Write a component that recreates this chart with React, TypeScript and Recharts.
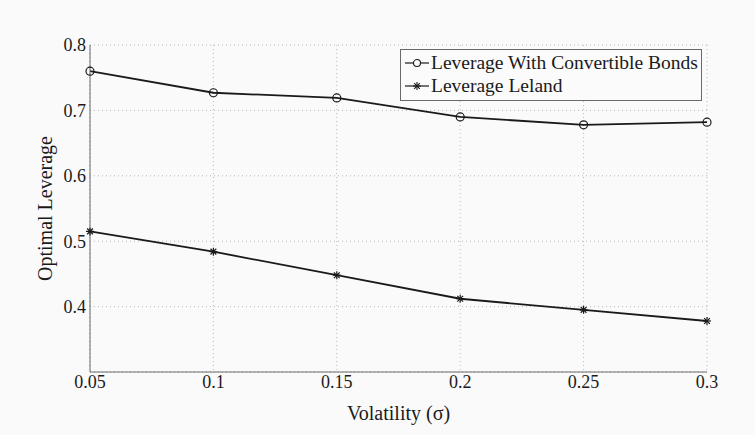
import { LineChart, Line, XAxis, YAxis, CartesianGrid, Legend } from "recharts";

// ── Data ──────────────────────────────────────────────────────────────────────
const VOLATILITY = [0.05, 0.1, 0.15, 0.2, 0.25, 0.3];
const LEV_CONVERTIBLE = [0.760, 0.727, 0.719, 0.690, 0.678, 0.682];
const LEV_LELAND = [0.515, 0.484, 0.448, 0.412, 0.395, 0.378];
const X_TICKS = [0.05, 0.1, 0.15, 0.2, 0.25, 0.3];
const Y_TICKS = [0.3, 0.4, 0.5, 0.6, 0.7, 0.8];
const SERIES_NAMES = ["Leverage With Convertible Bonds", "Leverage Leland"];

const data = VOLATILITY.map((v, i) => ({
  sigma: v,
  conv: LEV_CONVERTIBLE[i],
  leland: LEV_LELAND[i],
}));

// ── Theme ─────────────────────────────────────────────────────────────────────
const INK = "#1a1a1a";
const FRAME = "#6a6a6a";
const GRID = "#b8b8b8";
const FONT = "'Liberation Serif', 'DejaVu Serif', serif";

function CircleDot(props: any) {
  const { cx, cy, index } = props;
  if (cx == null || cy == null) return null;
  return <circle key={`c${index}`} cx={cx} cy={cy} r={4} fill="none" stroke={INK} strokeWidth={1.2} />;
}

function StarDot(props: any) {
  const { cx, cy, index } = props;
  if (cx == null || cy == null) return null;
  const r = 4;
  const d = r * 0.72;
  return (
    <g key={`s${index}`} stroke={INK} strokeWidth={1.2}>
      <line x1={cx - r} y1={cy} x2={cx + r} y2={cy} />
      <line x1={cx} y1={cy - r} x2={cx} y2={cy + r} />
      <line x1={cx - d} y1={cy - d} x2={cx + d} y2={cy + d} />
      <line x1={cx - d} y1={cy + d} x2={cx + d} y2={cy - d} />
    </g>
  );
}

// legend drawn in the series order, not recharts' sorted payload order
function LegendBox() {
  return (
    <div style={{
      border: `1px solid ${FRAME}`,
      background: "#fbfbfb",
      padding: "1px 3px 3px 4px",
      fontFamily: FONT,
      fontSize: 19.5,
      color: INK,
      lineHeight: "23px",
    }}>
      {SERIES_NAMES.map((name, i) => (
        <div key={name} style={{ display: "flex", alignItems: "center", whiteSpace: "nowrap" }}>
          <svg width={24} height={12} style={{ marginRight: 2 }}>
            <line x1={0} y1={6} x2={24} y2={6} stroke={INK} strokeWidth={1.2} />
            {i === 0
              ? <circle cx={12} cy={6} r={3.5} fill="#fbfbfb" stroke={INK} strokeWidth={1.1} />
              : <g stroke={INK} strokeWidth={1.1}>
                  <line x1={8} y1={6} x2={16} y2={6} />
                  <line x1={12} y1={2} x2={12} y2={10} />
                  <line x1={9.2} y1={3.2} x2={14.8} y2={8.8} />
                  <line x1={9.2} y1={8.8} x2={14.8} y2={3.2} />
                </g>}
          </svg>
          <span>{name}</span>
        </div>
      ))}
    </div>
  );
}

export default function App() {
  return (
    <div style={{ position: "absolute", left: 0, top: 0, width: 755, height: 435, background: "#fafafa" }}>
      <LineChart width={755} height={435} data={data} margin={{ top: 45, right: 48, bottom: 0, left: 0 }}>
        <CartesianGrid stroke={GRID} strokeDasharray="1 3" />
        <XAxis
          dataKey="sigma"
          type="number"
          domain={[0.05, 0.3]}
          ticks={X_TICKS}
          height={63}
          tickLine={false}
          tickSize={0}
          tickMargin={3}
          axisLine={{ stroke: FRAME }}
          tick={{ fill: INK, fontSize: 18, fontFamily: FONT }}
          tickFormatter={(v: number) => String(v)}
          label={{ value: "Volatility (σ)", position: "insideBottom", offset: 15, fill: INK, fontSize: 20, fontFamily: FONT }}
        />
        <XAxis xAxisId="top" orientation="top" dataKey="sigma" type="number" domain={[0.05, 0.3]} height={0} tick={false} tickLine={false} axisLine={{ stroke: FRAME }} />
        <YAxis
          type="number"
          domain={[0.3, 0.8]}
          ticks={Y_TICKS}
          width={90}
          tickLine={false}
          tickSize={0}
          tickMargin={4}
          axisLine={{ stroke: FRAME }}
          tick={{ fill: INK, fontSize: 18, fontFamily: FONT }}
          tickFormatter={(v: number) => (v === 0.3 ? "" : String(v))}
          label={{ value: "Optimal Leverage", angle: -90, position: "center", fill: INK, fontSize: 20, fontFamily: FONT }}
        />
        <YAxis yAxisId="right" orientation="right" type="number" domain={[0.3, 0.8]} width={0} tick={false} tickLine={false} axisLine={{ stroke: FRAME }} />
        <Legend
          layout="vertical"
          align="center"
          verticalAlign="middle"
          wrapperStyle={{ left: 400, top: 49, width: "auto", height: "auto" }}
          content={<LegendBox />}
        />
        <Line
          dataKey="conv"
          name={SERIES_NAMES[0]}
          type="linear"
          stroke={INK}
          strokeWidth={1.8}
          dot={<CircleDot />}
          activeDot={false}
          isAnimationActive={false}
        />
        <Line
          dataKey="leland"
          name={SERIES_NAMES[1]}
          type="linear"
          stroke={INK}
          strokeWidth={1.8}
          dot={<StarDot />}
          activeDot={false}
          isAnimationActive={false}
        />
      </LineChart>
    </div>
  );
}
